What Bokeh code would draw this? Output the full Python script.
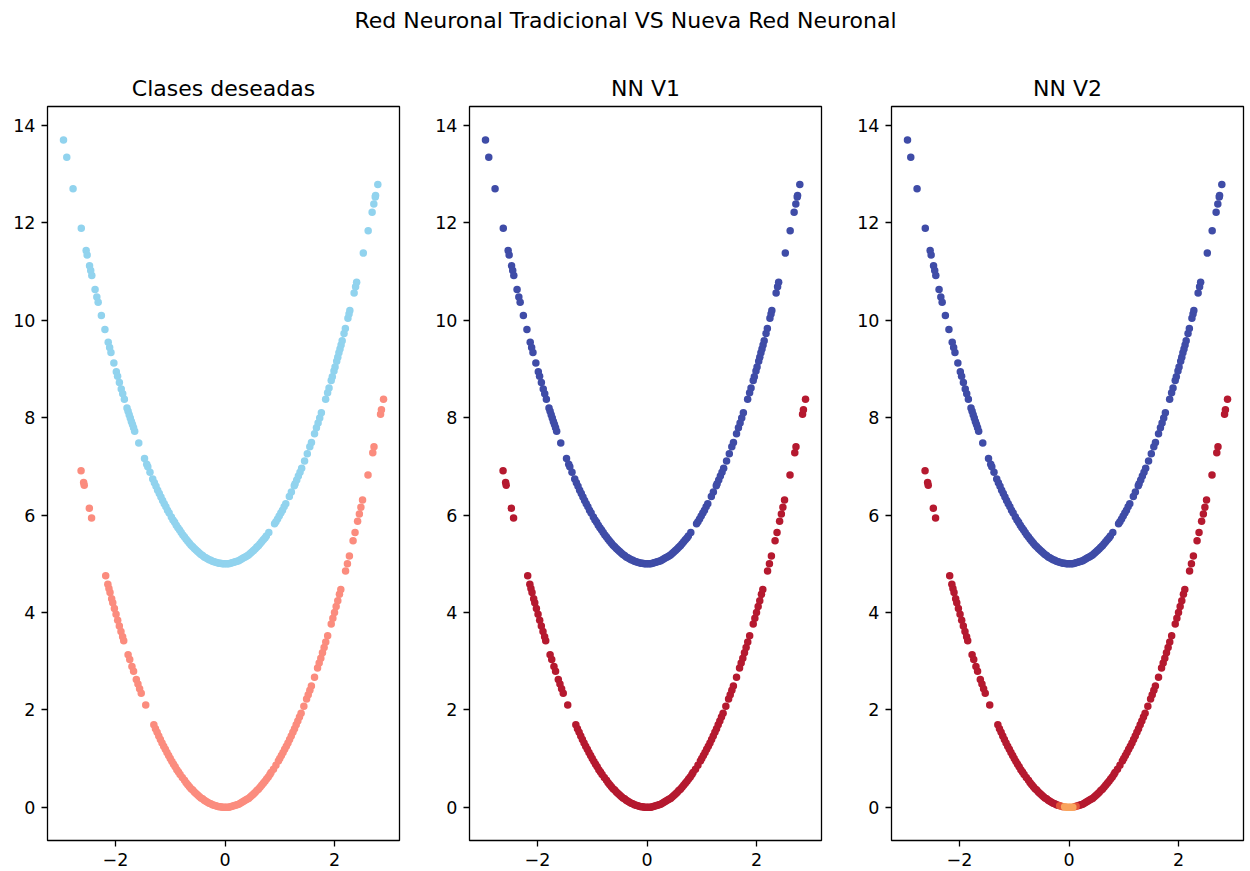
from bokeh.plotting import figure
from bokeh.layouts import column, row
from bokeh.models import Range1d, FixedTicker, Label
from bokeh.embed import file_html
from bokeh.resources import INLINE

# ---------------- data ----------------
suptitle = "Red Neuronal Tradicional VS Nueva Red Neuronal"
panel_titles = ["Clases deseadas", "NN V1", "NN V2"]

# upper parabola (class 1)
upper_x = [-2.95, -2.89, -2.775, -2.625, -2.536, -2.518, -2.474, -2.453, -2.433, -2.373,
           -2.341, -2.317, -2.258, -2.193, -2.133, -2.107, -2.083, -2.030, -1.985, -1.962,
           -1.929, -1.895, -1.868, -1.838, -1.79, -1.77, -1.75, -1.73, -1.71, -1.69,
           -1.67, -1.65, -1.575, -1.470, -1.43, -1.41, -1.37, -1.32, -1.29, -1.26,
           -1.23, -1.20, -1.17, -1.14, -1.11, -1.08, -1.05, -1.02, -0.98, -0.95,
           -0.92, -0.89, -0.86, -0.83, -0.80, -0.77, -0.74, -0.71, -0.68, -0.65,
           -0.62, -0.59, -0.56, -0.53, -0.50, -0.47, -0.44, -0.41, -0.38, -0.35,
           -0.32, -0.29, -0.26, -0.23, -0.20, -0.17, -0.14, -0.11, -0.08, -0.05,
           -0.02, 0.01, 0.04, 0.07, 0.10, 0.13, 0.16, 0.19, 0.22, 0.25,
           0.28, 0.31, 0.34, 0.37, 0.40, 0.43, 0.46, 0.49, 0.52, 0.55,
           0.58, 0.61, 0.64, 0.67, 0.70, 0.73, 0.755, 0.80, 0.905, 0.93, 0.96,
           0.99, 1.02, 1.05, 1.08, 1.11, 1.175, 1.212, 1.265, 1.28, 1.31,
           1.34, 1.37, 1.40, 1.453, 1.503, 1.549, 1.579, 1.635, 1.67, 1.70,
           1.73, 1.76, 1.838, 1.874, 1.90, 1.94, 1.96, 1.99, 2.01, 2.04,
           2.06, 2.08, 2.10, 2.12, 2.14, 2.174, 2.198, 2.245, 2.265, 2.28,
           2.358, 2.385, 2.404, 2.526, 2.615, 2.687, 2.718, 2.744, 2.750, 2.791]
upper_y = [13.70, 13.35, 12.70, 11.89, 11.43, 11.34, 11.12, 11.02, 10.92, 10.63,
           10.48, 10.37, 10.10, 9.81, 9.55, 9.44, 9.34, 9.12, 8.94, 8.85,
           8.72, 8.59, 8.49, 8.38, 8.20, 8.13, 8.06, 7.99, 7.92, 7.86,
           7.79, 7.72, 7.48, 7.16, 7.04, 6.99, 6.88, 6.74, 6.66, 6.59,
           6.51, 6.44, 6.37, 6.30, 6.23, 6.17, 6.10, 6.04, 5.96, 5.90,
           5.85, 5.79, 5.74, 5.69, 5.64, 5.59, 5.55, 5.50, 5.46, 5.42,
           5.38, 5.35, 5.31, 5.28, 5.25, 5.22, 5.19, 5.17, 5.14, 5.12,
           5.10, 5.08, 5.07, 5.05, 5.04, 5.03, 5.02, 5.01, 5.01, 5.00,
           5.00, 5.00, 5.00, 5.00, 5.01, 5.02, 5.03, 5.04, 5.05, 5.06,
           5.08, 5.10, 5.12, 5.14, 5.16, 5.18, 5.21, 5.24, 5.27, 5.30,
           5.34, 5.37, 5.41, 5.45, 5.49, 5.53, 5.57, 5.64, 5.82, 5.86, 5.92,
           5.98, 6.04, 6.10, 6.17, 6.23, 6.38, 6.47, 6.60, 6.64, 6.72,
           6.80, 6.88, 6.96, 7.11, 7.26, 7.40, 7.49, 7.67, 7.79, 7.89,
           7.99, 8.10, 8.38, 8.51, 8.61, 8.76, 8.84, 8.96, 9.04, 9.16,
           9.24, 9.33, 9.41, 9.49, 9.58, 9.73, 9.83, 10.04, 10.13, 10.20,
           10.56, 10.69, 10.78, 11.38, 11.84, 12.22, 12.39, 12.53, 12.56, 12.79]

# lower parabola (class 0)
lower_x = [-2.629, -2.582, -2.571, -2.478, -2.437, -2.179, -2.14, -2.12, -2.10, -2.07,
           -2.05, -2.02, -1.99, -1.96, -1.93, -1.90, -1.87, -1.85, -1.77, -1.74,
           -1.70, -1.67, -1.62, -1.59, -1.56, -1.53, -1.448, -1.30, -1.27, -1.24,
           -1.21, -1.18, -1.15, -1.12, -1.09, -1.06, -1.03, -1.00, -0.97, -0.94,
           -0.91, -0.88, -0.85, -0.82, -0.78, -0.74, -0.71, -0.68, -0.65, -0.62,
           -0.59, -0.56, -0.53, -0.50, -0.47, -0.44, -0.41, -0.38, -0.35, -0.32,
           -0.29, -0.26, -0.23, -0.20, -0.17, -0.14, -0.11, -0.08, -0.05, -0.02,
           0.01, 0.04, 0.07, 0.10, 0.13, 0.16, 0.19, 0.22, 0.25, 0.28,
           0.31, 0.34, 0.37, 0.40, 0.43, 0.46, 0.49, 0.52, 0.55, 0.58,
           0.61, 0.64, 0.67, 0.70, 0.73, 0.76, 0.79, 0.82, 0.84, 0.885,
           0.93, 0.975, 1.00, 1.03, 1.06, 1.09, 1.12, 1.15, 1.18, 1.21, 1.24, 1.27, 1.30,
           1.33, 1.36, 1.39, 1.44, 1.49, 1.52, 1.55, 1.578, 1.635, 1.69,
           1.72, 1.75, 1.78, 1.81, 1.84, 1.875, 1.94, 1.97, 2.00, 2.03,
           2.06, 2.09, 2.115, 2.202, 2.236, 2.272, 2.339, 2.375, 2.422, 2.454,
           2.482, 2.512, 2.612, 2.699, 2.721, 2.841, 2.857, 2.895]
lower_y = [6.91, 6.67, 6.61, 6.14, 5.94, 4.75, 4.58, 4.49, 4.41, 4.28,
           4.20, 4.08, 3.96, 3.84, 3.72, 3.61, 3.50, 3.42, 3.13, 3.03,
           2.89, 2.79, 2.62, 2.53, 2.43, 2.34, 2.10, 1.69, 1.61, 1.54,
           1.46, 1.39, 1.32, 1.25, 1.19, 1.12, 1.06, 1.00, 0.94, 0.88,
           0.83, 0.77, 0.72, 0.67, 0.61, 0.55, 0.50, 0.46, 0.42, 0.38,
           0.35, 0.31, 0.28, 0.25, 0.22, 0.19, 0.17, 0.14, 0.12, 0.10,
           0.08, 0.07, 0.05, 0.04, 0.03, 0.02, 0.01, 0.01, 0.00, 0.00,
           0.00, 0.00, 0.00, 0.01, 0.02, 0.03, 0.04, 0.05, 0.06, 0.08,
           0.10, 0.12, 0.14, 0.16, 0.18, 0.21, 0.24, 0.27, 0.30, 0.34,
           0.37, 0.41, 0.45, 0.49, 0.53, 0.58, 0.62, 0.67, 0.71, 0.78,
           0.86, 0.95, 1.00, 1.06, 1.12, 1.19, 1.25, 1.32, 1.39, 1.46, 1.54, 1.61, 1.69,
           1.77, 1.85, 1.93, 2.07, 2.22, 2.31, 2.40, 2.49, 2.67, 2.86,
           2.96, 3.06, 3.17, 3.28, 3.39, 3.52, 3.76, 3.88, 4.00, 4.12,
           4.24, 4.37, 4.47, 4.85, 5.00, 5.16, 5.47, 5.64, 5.87, 6.02,
           6.16, 6.31, 6.82, 7.28, 7.40, 8.07, 8.16, 8.38]

# NN V2: lower points whose output is not the pure class-0 colour
v2_soft_x = [-0.17, -0.14, -0.11, -0.08, -0.05, -0.02, 0.01, 0.04, 0.07, 0.10, 0.13]
v2_soft_level = [1, 1, 1, 2, 2, 2, 2, 2, 2, 1, 1]

x_ticks = [-2, 0, 2]
y_ticks = [0, 2, 4, 6, 8, 10, 12, 14]

# ---------------- styling ----------------
FONT = "DejaVu Sans"
C_UP_TRUE, C_LO_TRUE = "#91d3ee", "#fb8c7e"
C_UP_NN, C_LO_NN = "#3f4ca7", "#b5192f"
C_SOFT = {1: "#e2543a", 2: "#f9a45d"}
SIZE = 7.5

XR = (-3.242, 3.187)
YR = (-0.685, 14.39)


def make_panel(title, right_border):
    p = figure(frame_width=352, frame_height=734,
               x_range=Range1d(*XR), y_range=Range1d(*YR),
               output_backend="svg", toolbar_location=None,
               min_border_left=47, min_border_right=right_border,
               min_border_top=56, min_border_bottom=32,
               title=title, background_fill_color="white",
               border_fill_color="white")
    p.title.text_font = FONT
    p.title.text_font_size = "22px"
    p.title.text_font_style = "normal"
    p.title.align = "center"
    p.title.text_color = "black"
    p.title.standoff = 11
    p.xgrid.visible = False
    p.ygrid.visible = False
    p.outline_line_color = "black"
    p.outline_line_width = 1.3
    for ax, ticks in ((p.xaxis, x_ticks), (p.yaxis, y_ticks)):
        ax.ticker = FixedTicker(ticks=ticks)
        ax.major_label_overrides = {t: (str(t).replace("-", "\u2212")) for t in ticks}
        ax.axis_line_color = None
        ax.major_tick_line_color = "black"
        ax.major_tick_line_width = 1.3
        ax.major_tick_out = 6
        ax.major_tick_in = 0
        ax.minor_tick_line_color = None
        ax.major_label_text_font = FONT
        ax.major_label_text_font_size = "17.5px"
        ax.major_label_text_color = "black"
    p.xaxis.major_label_standoff = 6
    p.yaxis.major_label_standoff = 6
    return p


p1 = make_panel(panel_titles[0], 23)
p1.scatter(upper_x, upper_y, size=SIZE, color=C_UP_TRUE, line_color=None)
p1.scatter(lower_x, lower_y, size=SIZE, color=C_LO_TRUE, line_color=None)

p2 = make_panel(panel_titles[1], 23)
p2.scatter(upper_x, upper_y, size=SIZE, color=C_UP_NN, line_color=None)
p2.scatter(lower_x, lower_y, size=SIZE, color=C_LO_NN, line_color=None)

p3 = make_panel(panel_titles[2], 7)
p3.scatter(upper_x, upper_y, size=SIZE, color=C_UP_NN, line_color=None)
soft = dict(zip(v2_soft_x, v2_soft_level))
lvl = [soft.get(x, 0) for x in lower_x]
for level in (0, 1, 2):
    xs = [x for x, l in zip(lower_x, lvl) if l == level]
    ys = [y for y, l in zip(lower_y, lvl) if l == level]
    col = C_LO_NN if level == 0 else C_SOFT[level]
    p3.scatter(xs, ys, size=SIZE, color=col, line_color=None)

# suptitle strip
head = figure(width=1250, height=50, x_range=Range1d(0, 1250), y_range=Range1d(0, 50),
              output_backend="svg", toolbar_location=None, min_border=0,
              outline_line_color=None, border_fill_color="white")
head.axis.visible = False
head.grid.visible = False
head.add_layout(Label(x=625, y=30, text=suptitle, text_align="center",
                      text_baseline="middle", text_font=FONT,
                      text_font_size="22px", text_color="black"))

layout = column(head, row(p1, p2, p3, spacing=0), spacing=0)
open("out.html", "w").write(file_html(layout, INLINE))
